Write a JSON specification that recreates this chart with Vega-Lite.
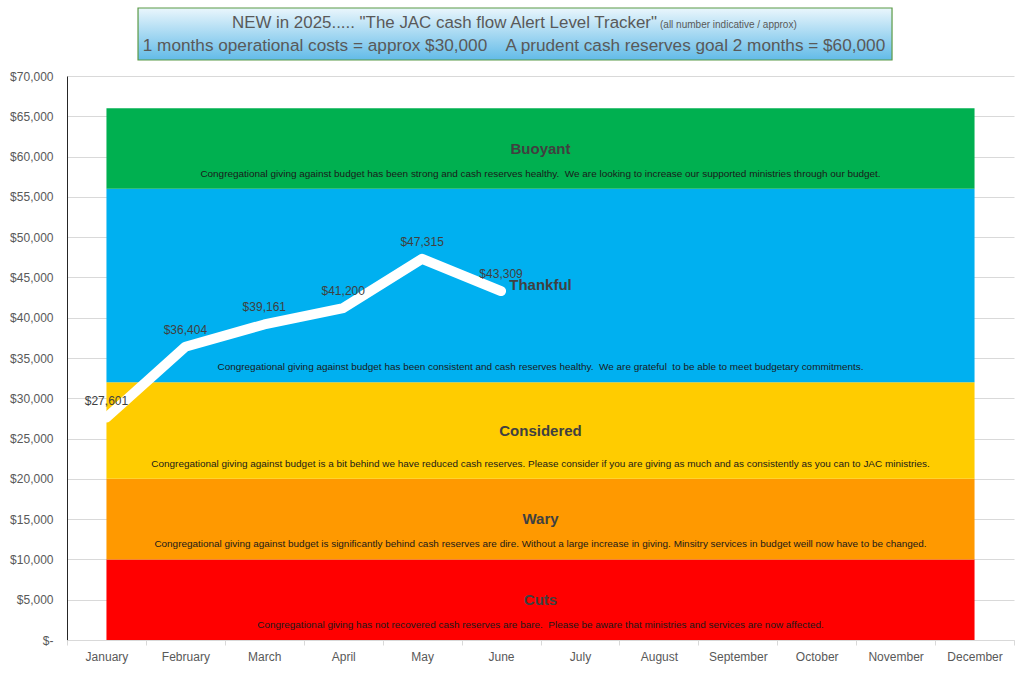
{
  "$schema": "https://vega.github.io/schema/vega-lite/v6.json",
  "background": "white",
  "padding": {"left": 9, "top": 7, "right": 16, "bottom": 5},
  "config": {"view": {"stroke": null}, "font": "Liberation Sans"},
  "datasets": {
    "levels": [
      {"level": "Cuts", "lo": 0, "hi": 10000, "desc": "Congregational giving has not recovered cash reserves are bare.\u00a0 Please be aware that ministries and services are now affected."},
      {"level": "Wary", "lo": 10000, "hi": 20000, "desc": "Congregational giving against budget is significantly behind cash reserves are dire. Without a large increase in giving. Minsitry services in budget weill now have to be changed."},
      {"level": "Considered", "lo": 20000, "hi": 32000, "desc": "Congregational giving against budget is a bit behind we have reduced cash reserves. Please consider if you are giving as much and as consistently as you can to JAC ministries."},
      {"level": "Thankful", "lo": 32000, "hi": 56000, "desc": "Congregational giving against budget has been consistent and cash reserves healthy.\u00a0 We are grateful\u00a0 to be able to meet budgetary commitments."},
      {"level": "Buoyant", "lo": 56000, "hi": 66000, "desc": "Congregational giving against budget has been strong and cash reserves healthy.\u00a0 We are looking to increase our supported ministries through our budget."}
    ],
    "cash": [
      {"month": "January", "value": 27601},
      {"month": "February", "value": 36404},
      {"month": "March", "value": 39161},
      {"month": "April", "value": 41200},
      {"month": "May", "value": 47315},
      {"month": "June", "value": 43309}
    ]
  },
  "spacing": 9,
  "vconcat": [
    {
      "width": 947,
      "height": 52,
      "data": {"values": [{}]},
      "encoding": {
        "x": {"type": "quantitative", "scale": {"domain": [0, 1]}, "axis": null},
        "y": {"type": "quantitative", "scale": {"domain": [0, 1]}, "axis": null}
      },
      "layer": [
        {
          "mark": {"type": "rect", "stroke": "#5b9a46", "strokeWidth": 1.2,
            "fill": {"gradient": "linear", "x1": 0, "y1": 0, "x2": 0, "y2": 1,
              "stops": [{"offset": 0, "color": "#eaf6fc"}, {"offset": 1, "color": "#62bbe8"}]}},
          "encoding": {
            "x": {"datum": 0.0750},
            "x2": {"datum": 0.8712},
            "y": {"datum": 0},
            "y2": {"datum": 1}
          }
        },
        {
          "mark": {"type": "text", "text": "NEW in 2025..... \"The JAC cash flow Alert Level Tracker\"", "fontSize": 16.9, "color": "#595959", "align": "right", "baseline": "middle"},
          "encoding": {
            "x": {"datum": 0.6230},
            "y": {"datum": 0.72}
          }
        },
        {
          "mark": {"type": "text", "text": "(all number indicative / approx)", "fontSize": 10, "color": "#595959", "align": "left", "baseline": "middle"},
          "encoding": {
            "x": {"datum": 0.6262},
            "y": {"datum": 0.68}
          }
        },
        {
          "mark": {"type": "text", "text": "1 months operational costs = approx $30,000\u00a0\u00a0\u00a0 A prudent cash reserves goal 2 months = $60,000", "fontSize": 17.2, "color": "#595959", "align": "center", "baseline": "middle"},
          "encoding": {
            "x": {"datum": 0.4720},
            "y": {"datum": 0.27}
          }
        }
      ]
    },
    {
      "width": 947,
      "height": 564,
      "encoding": {
        "x": {"field": "month", "type": "nominal",
          "scale": {"type": "band", "paddingInner": 0, "paddingOuter": 0,
            "domain": ["January", "February", "March", "April", "May", "June", "July", "August", "September", "October", "November", "December"]},
          "axis": {"title": null, "labelAngle": 0, "tickBand": "extent", "domainColor": "#d9d9d9", "tickColor": "#d9d9d9", "tickSize": 5, "labelPadding": 6, "labelColor": "#595959", "labelFontSize": 12}
        },
        "y": {"type": "quantitative",
          "scale": {"domain": [0, 70000], "nice": false},
          "axis": {"title": null, "values": [0, 5000, 10000, 15000, 20000, 25000, 30000, 35000, 40000, 45000, 50000, 55000, 60000, 65000, 70000],
            "labelExpr": "datum.value == 0 ? '$-' : '$' + format(datum.value, ',')",
            "ticks": false, "labelPadding": 14, "domainColor": "#262626", "gridColor": "#d9d9d9", "labelColor": "#595959", "labelFontSize": 12}
        }
      },
      "layer": [
        {
          "data": {"name": "levels"},
          "mark": {"type": "rect"},
          "encoding": {
            "x": {"datum": "January", "bandPosition": 0.5},
            "x2": {"datum": "December", "bandPosition": 0.5},
            "y": {"field": "lo"},
            "y2": {"field": "hi"},
            "color": {"field": "level", "type": "nominal", "legend": null,
              "scale": {"domain": ["Cuts", "Wary", "Considered", "Thankful", "Buoyant"], "range": ["#ff0000", "#ff9900", "#ffcc00", "#00b0f0", "#00b050"]}}
          }
        },
        {
          "data": {"name": "levels"},
          "transform": [{"calculate": "(datum.lo + datum.hi) / 2", "as": "mid"}],
          "mark": {"type": "text", "fontWeight": "bold", "fontSize": 15, "color": "#404040", "baseline": "middle", "align": "center"},
          "encoding": {
            "x": {"datum": "June", "bandPosition": 1},
            "y": {"field": "mid"},
            "text": {"field": "level"}
          }
        },
        {
          "data": {"name": "levels"},
          "mark": {"type": "text", "fontSize": 9.95, "color": "#1a1a1a", "baseline": "middle", "align": "center", "dy": -15},
          "encoding": {
            "x": {"datum": "June", "bandPosition": 1},
            "y": {"field": "lo"},
            "text": {"field": "desc"}
          }
        },
        {
          "data": {"name": "cash"},
          "mark": {"type": "line", "color": "white", "strokeWidth": 10, "strokeCap": "round", "strokeJoin": "round"},
          "encoding": {
            "y": {"field": "value"}
          }
        },
        {
          "data": {"name": "cash"},
          "mark": {"type": "text", "fontSize": 12, "color": "#404040", "dy": -17, "baseline": "middle"},
          "encoding": {
            "y": {"field": "value"},
            "text": {"field": "value", "format": "$,"}
          }
        }
      ]
    }
  ]
}
